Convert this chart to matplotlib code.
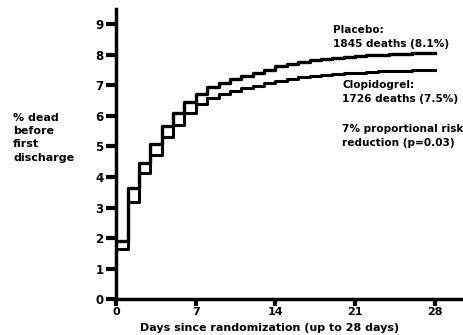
import matplotlib.pyplot as plt
import numpy as np

days = np.arange(0, 29)

# % dead, value held from each day to the next (last value repeated for day 28)
placebo = [1.90, 3.64, 4.46, 5.08, 5.67, 6.10, 6.46, 6.72, 6.94, 7.09,
           7.20, 7.32, 7.42, 7.51, 7.62, 7.70, 7.76, 7.82, 7.87, 7.91,
           7.94, 7.97, 7.99, 8.01, 8.03, 8.04, 8.05, 8.07, 8.07]
clopidogrel = [1.64, 3.18, 4.13, 4.72, 5.31, 5.70, 6.10, 6.39, 6.58, 6.72,
               6.83, 6.90, 6.98, 7.07, 7.14, 7.21, 7.27, 7.31, 7.35, 7.38,
               7.40, 7.42, 7.44, 7.46, 7.47, 7.48, 7.49, 7.50, 7.50]

xticks = [0, 7, 14, 21, 28]
yticks = list(range(0, 10))

placebo_text = "Placebo:\n1845 deaths (8.1%)"
clop_text = "Clopidogrel:\n1726 deaths (7.5%)"
rrr_text = "7% proportional risk\nreduction (p=0.03)"
ylabel_text = "% dead\nbefore\nfirst\ndischarge"
xlabel_text = "Days since randomization (up to 28 days)"

plt.rcParams['font.family'] = ['DejaVu Sans']
plt.rcParams['font.weight'] = 'bold'

fig = plt.figure(figsize=(4.63, 3.35), dpi=100)
ax = fig.add_axes([0.251, 0.107, 0.749, 0.866])

ax.step(days, placebo, where='post', color='black', lw=2.4)
ax.step(days, clopidogrel, where='post', color='black', lw=2.2)

ax.set_xlim(0, 30.5)
ax.set_ylim(0, 9.5)
ax.set_xticks(xticks)
ax.set_yticks(yticks)
ax.tick_params(axis='y', direction='out', length=7, width=3,
               labelsize=8.5, pad=2)
ax.tick_params(axis='x', direction='out', length=5, width=3,
               labelsize=8, pad=1)
for lab in ax.get_xticklabels() + ax.get_yticklabels():
    lab.set_fontweight('heavy')

for side in ['top', 'right']:
    ax.spines[side].set_visible(False)
for side in ['left', 'bottom']:
    ax.spines[side].set_linewidth(2.5)

ax.text(19.1, 8.97, placebo_text, ha='left', va='top', fontsize=7.6,
        fontweight='heavy', linespacing=1.45)
ax.text(19.9, 7.17, clop_text, ha='left', va='top', fontsize=7.6,
        fontweight='heavy', linespacing=1.45)
ax.text(19.9, 5.73, rrr_text, ha='left', va='top', fontsize=7.6,
        fontweight='heavy', linespacing=1.45)

fig.text(13 / 463, 1 - 113 / 335, ylabel_text, ha='left', va='top',
         fontsize=8, fontweight='heavy', linespacing=1.4)
fig.text(270 / 463, 1 - 328 / 335, xlabel_text, ha='center', va='center',
         fontsize=8, fontweight='heavy')

fig.savefig('out.png', dpi=100)
